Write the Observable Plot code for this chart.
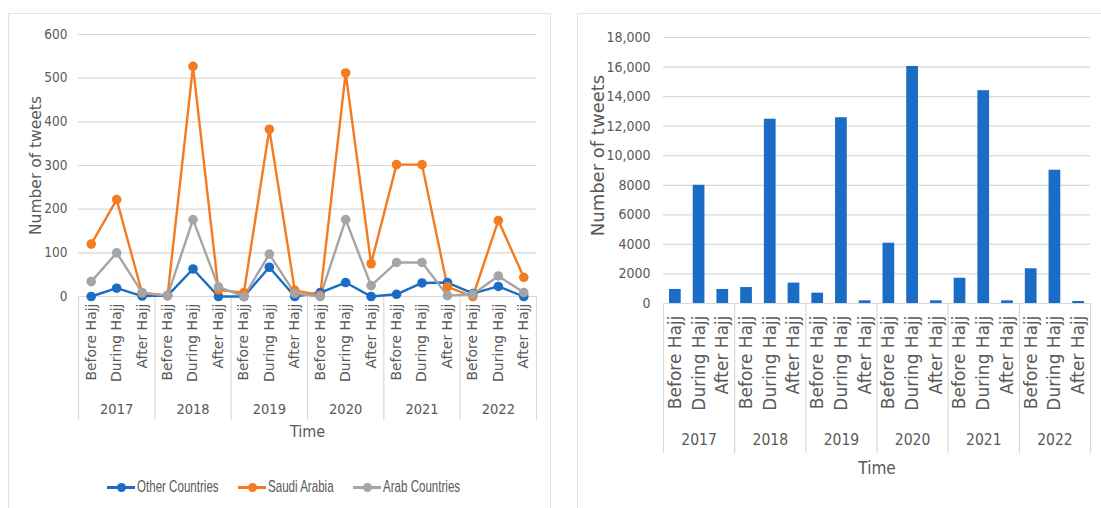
<!DOCTYPE html>
<html>
<head>
<meta charset="utf-8">
<script src="https://cdn.jsdelivr.net/npm/d3@7"></script>
<script src="https://cdn.jsdelivr.net/npm/@observablehq/plot@0.6"></script>
<style>
  body { margin:0; background:#fff; width:1101px; height:508px; overflow:hidden; position:relative;
         font-family:"Liberation Sans",sans-serif; color:#595959; }
  .panel { position:absolute; border:1.5px solid #e3e3e3; box-sizing:border-box; }
  #panelL { left:8px; top:13px; width:543px; height:510px; }
  #panelR { left:577px; top:13px; width:540px; height:510px; }
  #chartL { position:absolute; left:0; top:0; }
  #chartR { position:absolute; left:560px; top:0; }
  #legend { position:absolute; top:478px; left:0; width:560px; height:20px; font-size:17px; color:#595959; }
  .item { position:absolute; top:0; height:18px; }
  .sw { position:absolute; left:0; top:0; width:28px; height:18px; }
  .sw .ln { position:absolute; left:0; right:0; top:8px; height:2.5px; }
  .sw .dt { position:absolute; left:9.5px; top:4.5px; width:9.5px; height:9.5px; border-radius:50%; }
  .lab { position:absolute; left:30px; top:0; line-height:18px; white-space:nowrap; transform:scaleX(0.68); transform-origin:0 50%; }
</style>
</head>
<body>
<div class="panel" id="panelL"></div>
<div class="panel" id="panelR"></div>
<div id="chartL"></div>
<div id="chartR"></div>
<div id="legend"></div>
<script>
// ---- data ----
const years = ["2017", "2018", "2019", "2020", "2021", "2022"];
const periods = ["Before Hajj", "During Hajj", "After Hajj"];
const seriesNames = ["Other Countries", "Saudi Arabia", "Arab Countries"];
const seriesColors = ["#1a6cc6", "#f47b20", "#a5a5a5"];
const otherCountries = [0, 19, 1,   2, 63, 0,   0, 67, 0,   9, 32, 0,   5, 31, 32,   7, 23, 0];
const saudiArabia    = [120, 222, 8, 2, 527, 15, 9, 383, 14, 3, 512, 75, 302, 302, 22, 0, 174, 44];
const arabCountries  = [34, 100, 9,  2, 176, 22, 0, 97, 7,   0, 176, 25, 78, 78, 2,   5, 47, 9];
const tweetsTotal    = [950, 8000, 950, 1080, 12470, 1380, 700, 12570, 180, 4080, 16040, 180, 1710, 14400, 180, 2350, 9020, 135];
const yTicksLeft  = [0, 100, 200, 300, 400, 500, 600];
const yTicksRight = [0, 2000, 4000, 6000, 8000, 10000, 12000, 14000, 16000, 18000];
const yLabelsRight = ["0", "2000", "4000", "6000", "8000", "10,000", "12,000", "14,000", "16,000", "18,000"];
const barColor = "#1a6cc6";
const legendLeft = [107, 238, 353];   // legend item positions (layout)

// ---- derived tables ----
const cats = years.flatMap((y, j) => periods.map((p, k) => ({year: y, period: p, i: j * periods.length + k})));
const seriesValues = [otherCountries, saudiArabia, arabCountries];
const long = seriesNames.flatMap((s, si) => cats.map(c => ({series: s, i: c.i, value: seriesValues[si][c.i]})));
const groupBounds = years.map((y, j) => j * periods.length - 0.5).concat([years.length * periods.length - 0.5]);
const yearCenters = years.map((y, j) => ({year: y, i: j * periods.length + (periods.length - 1) / 2}));
const xDomain = [-0.5, cats.length - 0.5];

const narrow = '"DejaVu Sans Condensed","Liberation Sans",sans-serif';
const wide = '"DejaVu Sans",sans-serif';

// ---- left: line chart ----
const left = Plot.plot({
  width: 560, height: 450,
  marginLeft: 78, marginRight: 24, marginTop: 34, marginBottom: 154,
  style: {fontFamily: narrow, fontSize: "13.5px", color: "#595959", background: "transparent", overflow: "visible"},
  x: {domain: xDomain, axis: null},
  y: {domain: [0, 600], ticks: yTicksLeft, tickSize: 0, tickPadding: 11, label: null},
  color: {domain: seriesNames, range: seriesColors},
  marks: [
    Plot.ruleY(yTicksLeft, {stroke: "#d9d9d9", strokeWidth: 1.2}),
    Plot.ruleX(groupBounds, {x: d => d, y1: () => 0, y2: () => 0, insetBottom: -124, stroke: "#d9d9d9", strokeWidth: 1.2}),
    Plot.text(cats, {x: "i", y: () => 0, text: "period", rotate: -90, textAnchor: "end", dy: 7, fontSize: 14, fontFamily: wide}),
    Plot.text(yearCenters, {x: "i", y: () => 0, text: "year", dy: 113, fontSize: 14.5, fontFamily: narrow}),
    Plot.line(long, {x: "i", y: "value", z: "series", stroke: "series", strokeWidth: 2.4}),
    Plot.dot(long, {x: "i", y: "value", fill: "series", r: 4.8}),
    Plot.text(["Number of tweets"], {frameAnchor: "left", rotate: -90, textAnchor: "middle", dx: -42, fontSize: 15.5, fontFamily: wide}),
    Plot.text(["Time"], {frameAnchor: "bottom", textAnchor: "middle", dy: 140, fontSize: 16, fontFamily: narrow})
  ]
});
document.getElementById("chartL").appendChild(left);

// ---- right: bar chart ----
const right = Plot.plot({
  width: 541, height: 490,
  marginLeft: 103, marginRight: 11, marginTop: 37, marginBottom: 187,
  style: {fontFamily: narrow, fontSize: "14px", color: "#595959", background: "transparent", overflow: "visible"},
  x: {domain: xDomain, axis: null},
  y: {domain: [0, 18000], ticks: yTicksRight, tickFormat: d => yLabelsRight[yTicksRight.indexOf(d)], tickSize: 0, tickPadding: 13, label: null},
  marks: [
    Plot.ruleY(yTicksRight, {stroke: "#d9d9d9", strokeWidth: 1.2}),
    Plot.ruleX(groupBounds, {x: d => d, y1: () => 0, y2: () => 0, insetBottom: -150, stroke: "#d9d9d9", strokeWidth: 1.2}),
    Plot.rectY(cats, {x1: d => d.i - 0.5, x2: d => d.i + 0.5, y: d => tweetsTotal[d.i], insetLeft: 6, insetRight: 6, fill: barColor}),
    Plot.text(cats, {x: "i", y: () => 0, text: "period", rotate: -90, textAnchor: "end", dy: 12, fontSize: 17, fontFamily: wide}),
    Plot.text(yearCenters, {x: "i", y: () => 0, text: "year", dy: 137, fontSize: 15.5, fontFamily: narrow}),
    Plot.text(["Number of tweets"], {frameAnchor: "left", rotate: -90, textAnchor: "middle", dx: -65, dy: -15, fontSize: 18, fontFamily: wide}),
    Plot.text(["Time"], {frameAnchor: "bottom", textAnchor: "middle", dy: 170, fontSize: 17, fontFamily: narrow})
  ]
});
document.getElementById("chartR").appendChild(right);

// ---- legend (left chart) ----
const legend = document.getElementById("legend");
seriesNames.forEach((s, k) => {
  const item = document.createElement("div");
  item.className = "item";
  item.style.left = legendLeft[k] + "px";
  item.innerHTML = `<span class="sw"><span class="ln" style="background:${seriesColors[k]}"></span><span class="dt" style="background:${seriesColors[k]}"></span></span><span class="lab">${s}</span>`;
  legend.appendChild(item);
});
</script>
</body>
</html>
